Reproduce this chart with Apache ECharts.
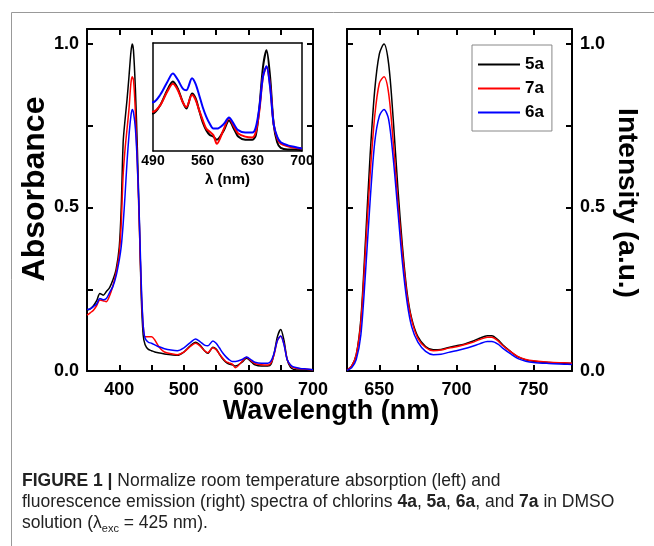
<!DOCTYPE html>
<html><head><meta charset="utf-8">
<script src="https://cdn.jsdelivr.net/npm/echarts@6/dist/echarts.min.js"></script>
<style>html,body{margin:0;padding:0;background:#fff}#c{width:654px;height:546px}</style>
</head><body><div id="c"></div>
<script>
// ---- Absorption spectra (left panel + inset) ----
const absWl = [350,355,360,365,370,375,380,385,390,395,400,403,406,409,412,415,418,420,422,425,428,431,434,437,440,445,450,455,460,465,470,480,490,500,510,518,525,532,537,545,550,555,560,565,570,575,580,590,597,605,610,620,630,635,640,645,650,655,660,665,670,680,690,700];
const abs5a = [0.186,0.19,0.2,0.215,0.237,0.232,0.243,0.255,0.278,0.31,0.38,0.5,0.7,0.77,0.83,0.9,0.975,1.0,0.98,0.86,0.68,0.46,0.23,0.11,0.08,0.066,0.062,0.058,0.056,0.054,0.052,0.05,0.048,0.058,0.077,0.088,0.079,0.062,0.054,0.073,0.067,0.052,0.037,0.027,0.021,0.019,0.015,0.027,0.039,0.027,0.019,0.015,0.015,0.021,0.056,0.106,0.127,0.094,0.035,0.012,0.005,0.003,0.003,0.002];
const abs7a = [0.171,0.178,0.186,0.2,0.217,0.215,0.212,0.23,0.26,0.3,0.36,0.45,0.6,0.68,0.74,0.8,0.88,0.9,0.89,0.79,0.63,0.45,0.25,0.14,0.105,0.105,0.105,0.095,0.078,0.066,0.058,0.053,0.05,0.058,0.075,0.085,0.077,0.062,0.056,0.071,0.065,0.052,0.04,0.029,0.025,0.021,0.01,0.029,0.042,0.03,0.023,0.019,0.018,0.025,0.052,0.094,0.106,0.083,0.035,0.017,0.01,0.007,0.005,0.004];
const abs6a = [0.188,0.19,0.197,0.205,0.222,0.218,0.222,0.24,0.258,0.29,0.34,0.38,0.45,0.54,0.64,0.72,0.78,0.8,0.79,0.74,0.63,0.47,0.27,0.14,0.1,0.088,0.085,0.08,0.075,0.072,0.068,0.064,0.062,0.071,0.087,0.098,0.09,0.079,0.077,0.092,0.085,0.071,0.056,0.044,0.035,0.029,0.029,0.035,0.043,0.033,0.027,0.024,0.024,0.031,0.056,0.094,0.107,0.081,0.035,0.019,0.012,0.008,0.006,0.004];
// ---- Emission spectra (right panel) ----
const emWl = [629,632,635,638,641,644,647,650,653,656,659,662,665,668,671,675,680,685,690,695,700,705,710,715,720,723,727,730,735,740,745,750,760,770,775];
const em5a = [0.003,0.015,0.05,0.16,0.4,0.66,0.86,0.97,1.0,0.94,0.77,0.56,0.38,0.24,0.16,0.105,0.075,0.065,0.066,0.072,0.077,0.082,0.09,0.1,0.108,0.108,0.095,0.08,0.06,0.043,0.034,0.03,0.026,0.024,0.023];
const em7a = [0.003,0.015,0.05,0.15,0.37,0.6,0.78,0.88,0.9,0.85,0.7,0.52,0.36,0.23,0.155,0.1,0.072,0.062,0.064,0.07,0.074,0.08,0.087,0.096,0.103,0.103,0.092,0.078,0.06,0.044,0.035,0.031,0.027,0.025,0.024];
const em6a = [0.002,0.01,0.035,0.11,0.3,0.52,0.7,0.78,0.8,0.77,0.65,0.49,0.33,0.21,0.135,0.088,0.06,0.05,0.051,0.057,0.062,0.068,0.075,0.083,0.09,0.09,0.082,0.07,0.053,0.038,0.03,0.026,0.023,0.021,0.02];
// ---- Names and ticks ----
const seriesNames = ['5a','7a','6a'];
const seriesColors = ['#000000','#ff0000','#0000ff'];
const absXLabels = [400,500,600,700];
const absXTicks = [400,450,500,550,600,650,700];
const emXLabels = [650,700,750];
const emXTicks = [650,675,700,725,750];
const insetXLabels = [490,560,630,700];
const yLabels = [0,0.5,1.0];
const yTicks = [0,0.25,0.5,0.75,1.0];

const zip = (xs, ys) => xs.map((x, i) => [x, ys[i]]);
const FONT = 'Liberation Sans, Arial, sans-serif';

function xAx(grid, pos, min, max, ticks, labels, extra) {
  return Object.assign({
    type:'value', gridIndex:grid, position:pos, min:min, max:max,
    axisLine:{show:true, onZero:false, lineStyle:{color:'#000', width:2}},
    axisTick:{show:!!ticks, inside:true, length:6, lineStyle:{color:'#000', width:2}, customValues:ticks||[]},
    axisLabel:{show:!!labels, customValues:labels||[], color:'#000', fontWeight:'bold', fontSize:18, fontFamily:FONT, margin:10},
    splitLine:{show:false}
  }, extra||{});
}
function yAx(grid, pos, min, max, ticks, labels, extra) {
  return Object.assign({
    type:'value', gridIndex:grid, position:pos, min:min, max:max,
    axisLine:{show:true, onZero:false, lineStyle:{color:'#000', width:2}},
    axisTick:{show:!!ticks, inside:true, length:6, lineStyle:{color:'#000', width:2}, customValues:ticks||[]},
    axisLabel:{show:!!labels, customValues:labels||[], color:'#000', fontWeight:'bold', fontSize:18, fontFamily:FONT, margin:8,
      formatter:v=>v.toFixed(1)},
    splitLine:{show:false}
  }, extra||{});
}

const series = [];
seriesNames.forEach((n, i) => {
  series.push({name:n, type:'line', xAxisIndex:0, yAxisIndex:0, data:zip(absWl, [abs5a,abs7a,abs6a][i]),
    showSymbol:false, symbol:'none', smooth:0.3, lineStyle:{color:seriesColors[i], width:1.5}, itemStyle:{color:seriesColors[i]}, z:2+i});
  series.push({name:n, type:'line', xAxisIndex:2, yAxisIndex:2, data:zip(emWl, [em5a,em7a,em6a][i]),
    showSymbol:false, symbol:'none', smooth:0.3, lineStyle:{color:seriesColors[i], width:1.5}, itemStyle:{color:seriesColors[i]}, z:2+i});
  series.push({name:n, type:'line', xAxisIndex:4, yAxisIndex:4, data:zip(absWl, [abs5a,abs7a,abs6a][i]),
    showSymbol:false, symbol:'none', smooth:0.3, clip:true, lineStyle:{color:seriesColors[i], width:2}, itemStyle:{color:seriesColors[i]}, z:10+i});
});

const chart = echarts.init(document.getElementById('c'), null, {renderer:'canvas'});
chart.setOption({
  animation:false,
  backgroundColor:'#fff',
  textStyle:{fontFamily:FONT},
  grid:[
    {left:87, top:29, width:226, height:342},
    {left:347, top:29, width:225, height:342},
    {left:153, top:43, width:149, height:108, show:true, backgroundColor:'#fff', borderWidth:0, z:5}
  ],
  xAxis:[
    xAx(0,'bottom',350,700,absXTicks,absXLabels),
    xAx(0,'top',350,700,absXTicks,null),
    xAx(1,'bottom',629,775,emXTicks,emXLabels),
    xAx(1,'top',629,775,emXTicks,null),
    xAx(2,'bottom',490,700,null,insetXLabels,{
      axisLine:{show:true,onZero:false,lineStyle:{color:'#000',width:1.5}},
      axisLabel:{show:true, customValues:insetXLabels, color:'#000', fontWeight:'bold', fontSize:14, fontFamily:FONT, margin:3},
      name:'λ (nm)', nameLocation:'middle', nameGap:21, nameTextStyle:{color:'#000', fontWeight:'bold', fontSize:15, fontFamily:FONT}, z:6}),
    xAx(2,'top',490,700,null,null,{axisLine:{show:true,onZero:false,lineStyle:{color:'#000',width:1.5}}, z:6})
  ],
  yAxis:[
    yAx(0,'left',0,1.046,yTicks,yLabels),
    yAx(0,'right',0,1.046,yTicks,null),
    yAx(1,'left',0,1.046,yTicks,null),
    yAx(1,'right',0,1.046,yTicks,yLabels),
    yAx(2,'left',0.001,0.136,null,null,{axisLine:{show:true,onZero:false,lineStyle:{color:'#000',width:1.5}}, z:6}),
    yAx(2,'right',0.001,0.136,null,null,{axisLine:{show:true,onZero:false,lineStyle:{color:'#000',width:1.5}}, z:6})
  ],
  legend:{
    data:seriesNames, orient:'vertical', left:472, top:45,
    icon:'rect', itemWidth:42, itemHeight:2, itemGap:7,
    padding:[11,8,10,6], borderColor:'#888', borderWidth:1,
    textStyle:{color:'#000', fontWeight:'bold', fontSize:17, fontFamily:FONT}
  },
  series:series,
  graphic:[
    {type:'rect', left:9, top:10, shape:{width:700, height:600}, style:{fill:'none', stroke:'#999', lineWidth:1}, silent:true},
    {type:'text', x:35, y:189, rotation:Math.PI/2, style:{text:'Absorbance', fill:'#000', font:'bold 32px '+FONT, align:'center', verticalAlign:'middle'}},
    {type:'text', x:627, y:203, rotation:-Math.PI/2, style:{text:'Intensity (a.u.)', fill:'#000', font:'bold 28px '+FONT, align:'center', verticalAlign:'middle'}},
    {type:'text', x:331, y:412, style:{text:'Wavelength (nm)', fill:'#000', font:'bold 27px '+FONT, align:'center', verticalAlign:'middle'}},
    {type:'text', left:22, top:471, style:{
      text:'{b|FIGURE 1 |} Normalize room temperature absorption (left) and\nfluorescence emission (right) spectra of chlorins {b|4a}, {b|5a}, {b|6a}, and {b|7a} in DMSO\nsolution (λ{s|exc} = 425 nm).',
      fill:'#222', font:'17.5px '+FONT, lineHeight:21,
      rich:{b:{fontWeight:'bold', fontSize:17.5, fontFamily:FONT, fill:'#222'}, s:{fontSize:11, fontFamily:FONT, fill:'#222', verticalAlign:'bottom', padding:[9,0,0,0]}}
    }}
  ]
});
</script></body></html>
